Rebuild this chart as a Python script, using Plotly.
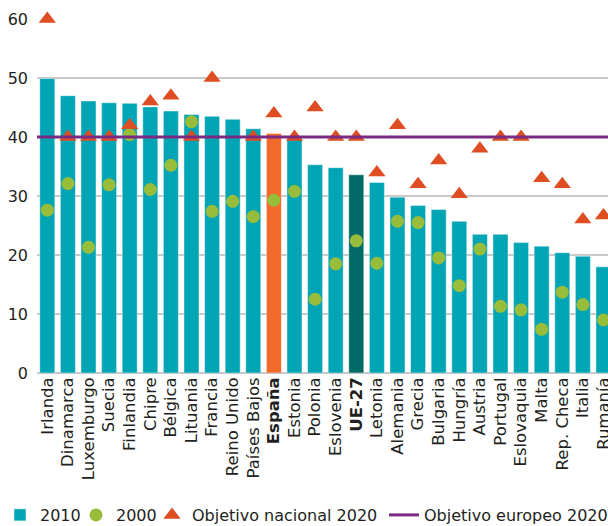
import plotly.graph_objects as go

# Tertiary attainment (30-34 year-olds, %) by country
countries = ["Irlanda", "Dinamarca", "Luxemburgo", "Suecia", "Finlandia", "Chipre",
             "Bélgica", "Lituania", "Francia", "Reino Unido", "Países Bajos", "España",
             "Estonia", "Polonia", "Eslovenia", "UE-27", "Letonia", "Alemania", "Grecia",
             "Bulgaria", "Hungría", "Austria", "Portugal", "Eslovaquia", "Malta",
             "Rep. Checa", "Italia", "Rumanía"]

values_2010 = [49.9, 47.0, 46.1, 45.8, 45.7, 45.1, 44.4, 43.8, 43.5, 43.0, 41.4, 40.6,
               39.7, 35.3, 34.8, 33.6, 32.3, 29.8, 28.4, 27.7, 25.7, 23.5, 23.5, 22.1,
               21.5, 20.4, 19.8, 18.0]

values_2000 = [27.6, 32.1, 21.3, 31.9, 40.4, 31.1, 35.2, 42.6, 27.4, 29.1, 26.5, 29.3,
               30.8, 12.5, 18.5, 22.4, 18.6, 25.7, 25.5, 19.5, 14.8, 21.0, 11.3, 10.7,
               7.4, 13.7, 11.6, 9.0]

national_target_2020 = [60, 40, 40, 40, 42, 46, 47, 40, 50, None, 40, 44,
                        40, 45, 40, 40, 34, 42, 32, 36, 30.3, 38, 40, 40,
                        33, 32, 26, 26.7]

eu_target_2020 = 40

y_ticks = [0, 10, 20, 30, 40, 50, 60]

TEAL = "#00A5B5"
SPAIN = "#F26A2C"
EU = "#006B66"
GREEN = "#97BD3B"
RED = "#DE4E22"
PURPLE = "#7A2A82"
TEXT = "#231F20"
FONT = "DejaVu Sans"
W, H = 608, 526

bar_colors = [SPAIN if c == "España" else EU if c == "UE-27" else TEAL for c in countries]
tick_text = [f"<b>{c}</b>" if c in ("España", "UE-27") else c for c in countries]

fig = go.Figure()

fig.add_trace(go.Bar(
    x=countries, y=values_2010, name="2010", legend="legend",
    marker=dict(color=bar_colors, line=dict(color="rgba(255,255,255,0.45)", width=1)),
))

fig.add_trace(go.Scatter(
    x=countries, y=values_2000, name="2000", mode="markers", legend="legend2",
    marker=dict(symbol="circle", size=13, color=GREEN),
))

fig.add_trace(go.Scatter(
    x=countries, y=national_target_2020, name="Objetivo nacional 2020", mode="markers",
    legend="legend3",
    marker=dict(symbol="triangle-up", size=15, color=RED),
    cliponaxis=False,
))

fig.add_shape(
    type="line", xref="paper", x0=0, x1=1, yref="y", y0=eu_target_2020, y1=eu_target_2020,
    line=dict(color=PURPLE, width=3), layer="above",
    showlegend=True, name="Objetivo europeo 2020", legend="legend4",
)


def legend_box(x_px):
    # one single-entry legend per series, laid out along the bottom row
    return dict(
        orientation="h", xref="container", yref="container",
        x=x_px / W, y=(H - 515) / H, xanchor="left", yanchor="middle",
        font=dict(size=16, family=FONT, color=TEXT),
        itemwidth=30, bgcolor="rgba(0,0,0,0)", borderwidth=0,
    )


fig.update_layout(
    width=W, height=H,
    margin=dict(l=37, r=0, t=19, b=153, autoexpand=False),
    paper_bgcolor="white", plot_bgcolor="white",
    font=dict(family=FONT, color=TEXT),
    bargap=0.27,
    showlegend=True,
    legend=legend_box(0),
    legend2=legend_box(76),
    legend3=legend_box(152),
    legend4=legend_box(384),
    xaxis=dict(
        type="category", range=[-0.5, 27.22], automargin=False,
        tickmode="array", tickvals=countries, ticktext=tick_text,
        tickangle=-90, tickfont=dict(size=16.5, family=FONT, color=TEXT),
        showgrid=False, showline=False, ticks="",
    ),
    yaxis=dict(
        range=[0, 60], tickvals=y_ticks, automargin=False,
        tickfont=dict(size=16, family=FONT, color=TEXT),
        showgrid=True, gridcolor="#C8C8C8", gridwidth=2,
        zeroline=True, zerolinecolor="#C8C8C8", zerolinewidth=2,
        showline=False, ticks="", ticklabelstandoff=8,
    ),
)

fig.write_html("out.html")
